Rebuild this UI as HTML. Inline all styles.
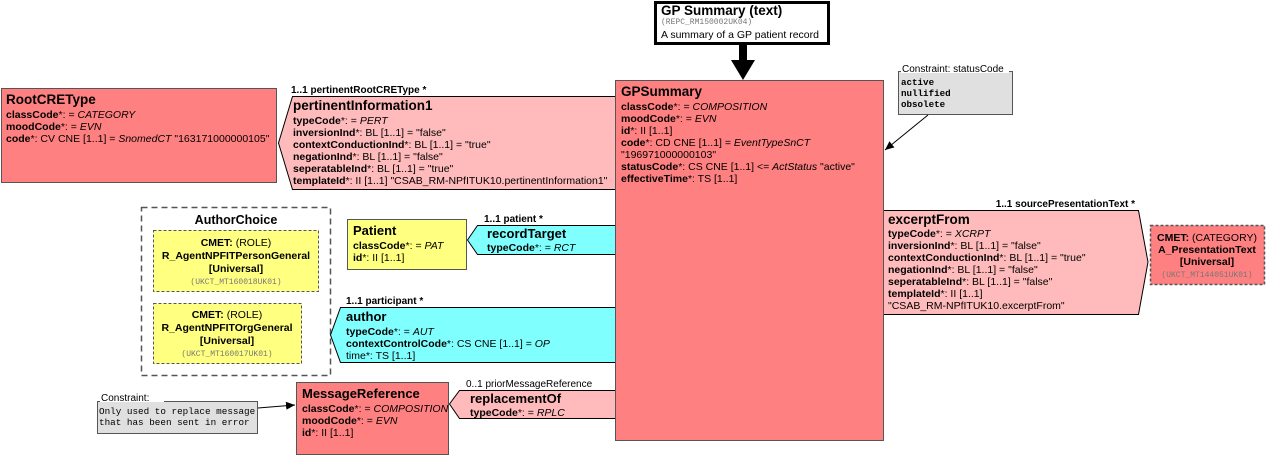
<!DOCTYPE html>
<html><head><meta charset="utf-8"><style>
html,body{margin:0;padding:0;background:#fff;}
svg{display:block;font-family:"Liberation Sans",Arial,sans-serif;}
.b{font-weight:bold}
.m{font-family:"Liberation Mono",monospace}
</style></head><body>
<svg width="1268" height="456" viewBox="0 0 1268 456" xmlns="http://www.w3.org/2000/svg" font-size="10.5">
<defs>
<marker id="ah" markerWidth="10" markerHeight="10" refX="9" refY="5" orient="auto" markerUnits="userSpaceOnUse"><path d="M0,1 L9,5 L0,9 z" fill="#000"/></marker>
</defs>
<rect x="655.5" y="2.5" width="173" height="41" fill="#fff" stroke="#000" stroke-width="3"/>
<text x="661" y="15" font-size="13.5" class="b">GP Summary (text)</text>
<text x="661" y="24" font-size="8" class="m" fill="#777">(REPC_RM150002UK04)</text>
<text x="661" y="38" font-size="10.5">A summary of a GP patient record</text>
<rect x="739" y="44" width="8" height="20" fill="#000"/>
<path d="M731,60 L755,60 L743,80 z" fill="#000"/>

<rect x="615.5" y="80.5" width="268" height="360" fill="#FF8080" stroke="#555"/>
<text x="621" y="96" font-size="13.5" class="b">GPSummary</text>
<g font-size="10.5">
<text x="621" y="110"><tspan class="b">classCode</tspan>*: = <tspan font-style="italic">COMPOSITION</tspan></text>
<text x="621" y="122"><tspan class="b">moodCode</tspan>*: = <tspan font-style="italic">EVN</tspan></text>
<text x="621" y="134"><tspan class="b">id</tspan>*: II [1..1]</text>
<text x="621" y="146"><tspan class="b">code</tspan>*: CD CNE [1..1] = <tspan font-style="italic">EventTypeSnCT</tspan></text>
<text x="621" y="158">"196971000000103"</text>
<text x="621" y="170"><tspan class="b">statusCode</tspan>*: CS CNE [1..1] &lt;= <tspan font-style="italic">ActStatus</tspan> "active"</text>
<text x="621" y="182"><tspan class="b">effectiveTime</tspan>*: TS [1..1]</text>
</g>

<rect x="898.5" y="71.5" width="114" height="43" fill="#E0E0E0" stroke="#555"/>
<rect x="901" y="63" width="108" height="10" fill="#fff"/>
<text x="902" y="72" font-size="10">Constraint: statusCode</text>
<g class="m" font-size="9.2" font-weight="bold"><text x="901" y="85">active</text><text x="901" y="96">nullified</text><text x="901" y="107">obsolete</text></g>
<line x1="928" y1="115" x2="885" y2="150" stroke="#000" marker-end="url(#ah)"/>

<rect x="1.5" y="88.5" width="275" height="94" fill="#FF8080" stroke="#555"/>
<text x="6" y="104" font-size="13.5" class="b">RootCREType</text>
<text x="6" y="118"><tspan class="b">classCode</tspan>*: = <tspan font-style="italic">CATEGORY</tspan></text>
<text x="6" y="130"><tspan class="b">moodCode</tspan>*: = <tspan font-style="italic">EVN</tspan></text>
<text x="6" y="142"><tspan class="b">code</tspan>*: CV CNE [1..1] = <tspan font-style="italic">SnomedCT</tspan> "163171000000105"</text>

<path d="M615,96.5 L292.5,96.5 L278.5,143 L292.5,189.5 L615,189.5" fill="#FFBBBB" stroke="#000"/>
<text x="291" y="93" font-size="10" class="b">1..1 pertinentRootCREType  *</text>
<text x="293" y="110" font-size="13.5" class="b">pertinentInformation1</text>
<text x="293" y="124"><tspan class="b">typeCode</tspan>*: = <tspan font-style="italic">PERT</tspan></text>
<text x="293" y="136"><tspan class="b">inversionInd</tspan>*: BL [1..1] = "false"</text>
<text x="293" y="148"><tspan class="b">contextConductionInd</tspan>*: BL [1..1] = "true"</text>
<text x="293" y="160"><tspan class="b">negationInd</tspan>*: BL [1..1] = "false"</text>
<text x="293" y="172"><tspan class="b">seperatableInd</tspan>*: BL [1..1] = "true"</text>
<text x="293" y="184"><tspan class="b">templateId</tspan>*: II [1..1] "CSAB_RM-NPfITUK10.pertinentInformation1"</text>

<path d="M884,210.5 L1138.5,210.5 L1148,262 L1138.5,314.5 L884,314.5" fill="#FFBBBB" stroke="#000"/>
<text x="1135" y="207" font-size="10" class="b" text-anchor="end">1..1 sourcePresentationText  *</text>
<text x="888" y="224" font-size="13.5" class="b">excerptFrom</text>
<text x="888" y="237"><tspan class="b">typeCode</tspan>*: = <tspan font-style="italic">XCRPT</tspan></text>
<text x="888" y="249"><tspan class="b">inversionInd</tspan>*: BL [1..1] = "false"</text>
<text x="888" y="261"><tspan class="b">contextConductionInd</tspan>*: BL [1..1] = "true"</text>
<text x="888" y="273"><tspan class="b">negationInd</tspan>*: BL [1..1] = "false"</text>
<text x="888" y="285"><tspan class="b">seperatableInd</tspan>*: BL [1..1] = "false"</text>
<text x="888" y="297"><tspan class="b">templateId</tspan>*: II [1..1]</text>
<text x="888" y="309"> "CSAB_RM-NPfITUK10.excerptFrom"</text>

<rect x="1150.5" y="225.5" width="114" height="59" fill="#FF8080" stroke="#555" stroke-dasharray="3,2" stroke-width="1.5"/>
<g text-anchor="middle"><text x="1207" y="241"><tspan class="b">CMET:</tspan> (CATEGORY)</text>
<text x="1207" y="253" class="b">A_PresentationText</text>
<text x="1207" y="265" class="b">[Universal]</text>
<text x="1207" y="277" font-size="8" class="m" fill="#777">(UKCT_MT144051UK01)</text></g>

<rect x="141.5" y="207.5" width="189" height="168" fill="#fff" stroke="#555" stroke-dasharray="6,4" stroke-width="1.5"/>
<text x="236" y="224" font-size="12.5" class="b" text-anchor="middle">AuthorChoice</text>
<rect x="153.5" y="230.5" width="165" height="61" fill="#FFFF80" stroke="#555" stroke-dasharray="3,2"/>
<g text-anchor="middle"><text x="236" y="246"><tspan class="b">CMET:</tspan> (ROLE)</text>
<text x="236" y="259" class="b">R_AgentNPFITPersonGeneral</text>
<text x="236" y="272" class="b">[Universal]</text>
<text x="236" y="284" font-size="8" class="m" fill="#777">(UKCT_MT160018UK01)</text></g>
<rect x="153.5" y="303.5" width="148" height="60" fill="#FFFF80" stroke="#555" stroke-dasharray="3,2"/>
<g text-anchor="middle"><text x="227" y="318"><tspan class="b">CMET:</tspan> (ROLE)</text>
<text x="227" y="331" class="b">R_AgentNPFITOrgGeneral</text>
<text x="227" y="344" class="b">[Universal]</text>
<text x="227" y="356" font-size="8" class="m" fill="#777">(UKCT_MT160017UK01)</text></g>

<rect x="347.5" y="219.5" width="119" height="50" fill="#FFFF80" stroke="#555"/>
<text x="353" y="235" font-size="13" class="b">Patient</text>
<text x="353" y="249"><tspan class="b">classCode</tspan>*: = <tspan font-style="italic">PAT</tspan></text>
<text x="353" y="261"><tspan class="b">id</tspan>*: II [1..1]</text>

<path d="M615,225.5 L477.5,225.5 L467.5,240 L477.5,254.5 L615,254.5" fill="#80FFFF" stroke="#000"/>
<text x="484" y="222" font-size="10" class="b">1..1 patient  *</text>
<text x="487" y="238" font-size="13" class="b">recordTarget</text>
<text x="487" y="251"><tspan class="b">typeCode</tspan>*: = <tspan font-style="italic">RCT</tspan></text>

<path d="M615,307.5 L340.5,307.5 L330.5,335 L340.5,362.5 L615,362.5" fill="#80FFFF" stroke="#000"/>
<text x="346" y="304" font-size="10" class="b">1..1 participant  *</text>
<text x="346" y="321" font-size="13" class="b">author</text>
<text x="346" y="335"><tspan class="b">typeCode</tspan>*: = <tspan font-style="italic">AUT</tspan></text>
<text x="346" y="347"><tspan class="b">contextControlCode</tspan>*: CS CNE [1..1] = <tspan font-style="italic">OP</tspan></text>
<text x="346" y="359">time*: TS [1..1]</text>

<rect x="296.5" y="382.5" width="152" height="72" fill="#FF8080" stroke="#555"/>
<text x="302" y="398" font-size="13" class="b">MessageReference</text>
<text x="302" y="412"><tspan class="b">classCode</tspan>*: = <tspan font-style="italic">COMPOSITION</tspan></text>
<text x="302" y="424"><tspan class="b">moodCode</tspan>*: = <tspan font-style="italic">EVN</tspan></text>
<text x="302" y="436"><tspan class="b">id</tspan>*: II [1..1]</text>

<path d="M615,390.5 L459.5,390.5 L449.5,404 L459.5,418.5 L615,418.5" fill="#FFBBBB" stroke="#000"/>
<text x="466" y="387" font-size="10">0..1 priorMessageReference</text>
<text x="470" y="403" font-size="13" class="b">replacementOf</text>
<text x="470" y="416"><tspan class="b">typeCode</tspan>*: = <tspan font-style="italic">RPLC</tspan></text>

<rect x="97.5" y="401.5" width="160" height="32" fill="#E0E0E0" stroke="#555"/>
<rect x="100" y="392" width="64" height="10" fill="#fff"/>
<text x="101" y="401" font-size="10">Constraint:</text>
<g class="m" font-size="9.3"><text x="99" y="414">Only used to replace message</text><text x="99" y="425">that has been sent in error</text></g>
<line x1="258" y1="408" x2="295" y2="405" stroke="#000" marker-end="url(#ah)"/>
</svg>
</body></html>
